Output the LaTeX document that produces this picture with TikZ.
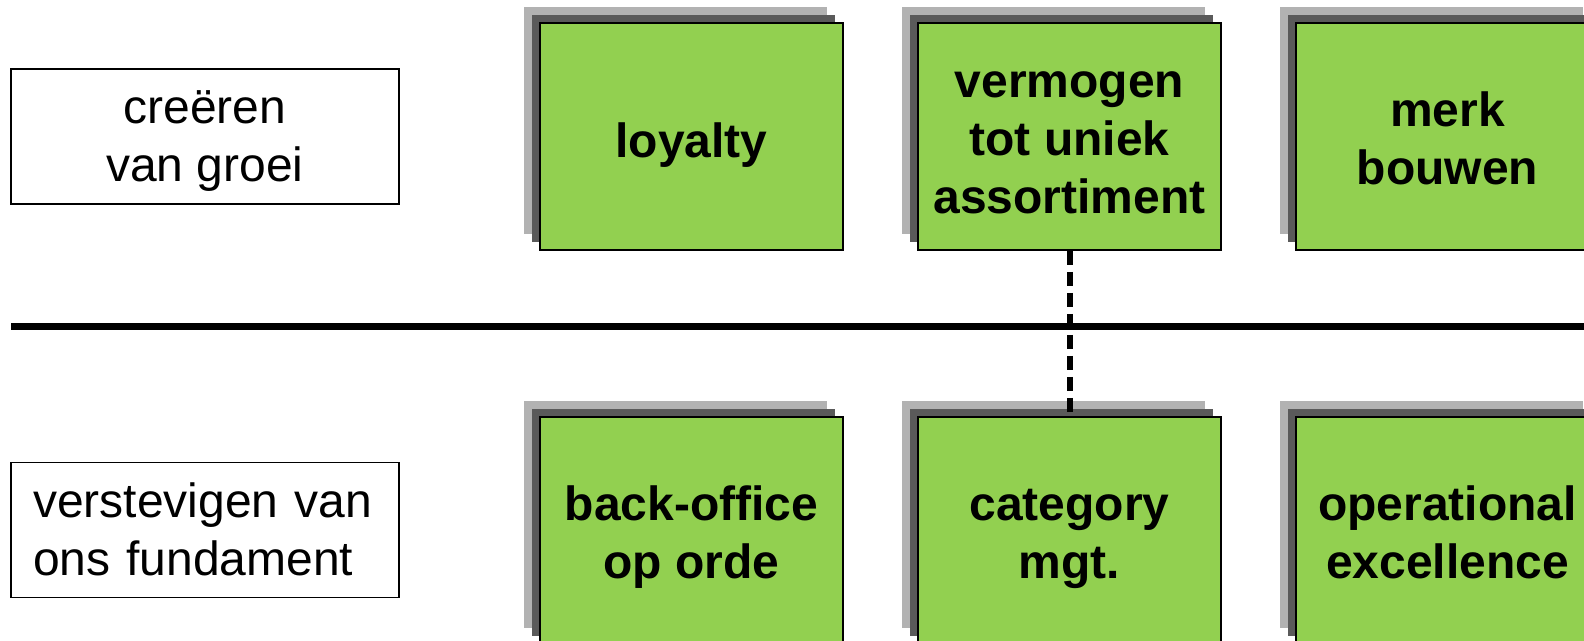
\documentclass[tikz,border=0pt]{standalone}
\usepackage{fontspec}
\setmainfont{Liberation Sans}
\usetikzlibrary{shadows}
\definecolor{boxgreen}{RGB}{146,208,80}
\definecolor{shdark}{RGB}{90,90,90}
\definecolor{shlight}{RGB}{178,178,178}
\begin{document}
\begin{tikzpicture}[x=1pt,y=-1pt,
  greenbox/.style={
    copy shadow={shadow xshift=-16pt, shadow yshift=16pt, fill=shlight, draw=none},
    copy shadow={shadow xshift=-8pt, shadow yshift=8pt, fill=shdark, draw=none},
    fill=boxgreen, draw=black, line width=1.5pt,
    minimum width=303pt, minimum height=227pt, inner sep=0pt,
    align=center, font=\fontsize{48}{58}\selectfont\bfseries, text depth=13pt},
  labelbox/.style={draw=black, line width=1.5pt, fill=white,
    minimum width=388pt, minimum height=135pt, inner ysep=0pt,
    font=\fontsize{48}{58}\selectfont},
  oneline/.style={text height=55pt},
  twolines/.style={text height=109pt},
  threelines/.style={text height=167pt},
  divider/.style={line width=7pt},
  link/.style={line width=6pt, dash pattern=on 14pt off 7pt}]
\useasboundingbox (0,0) rectangle (1584,640);
\fill[white] (0,0) rectangle (1584,640);

\node[labelbox, align=center, inner xsep=0pt, text height=103pt, text depth=13pt] (growth) at (205,136.5) {creëren\\van groei};
\node[labelbox, align=left, text width=344pt, inner xsep=22pt, text height=45pt, text depth=71pt] (found) at (205,530) {verstevigen van\\ons fundament};

\node[greenbox, oneline] (loy) at (691.5,136.5) {loyalty};
\node[greenbox, threelines] (vtu) at (1069.5,136.5) {vermogen\\tot uniek\\assortiment};
\node[greenbox, twolines] (merk) at (1447.5,136.5) {merk\\bouwen};

\node[greenbox, twolines] (bo) at (691.5,530.5) {back-office\\op orde};
\node[greenbox, twolines] (cat) at (1069.5,530.5) {category\\mgt.};
\node[greenbox, twolines] (opx) at (1447.5,530.5) {operational\\excellence};

\coordinate (dl) at (11,326);
\coordinate (dr) at (1590,326);
\draw[divider] (dl) -- (dr);
\draw[link] (vtu.south) -- (cat.north);
\end{tikzpicture}
\end{document}
